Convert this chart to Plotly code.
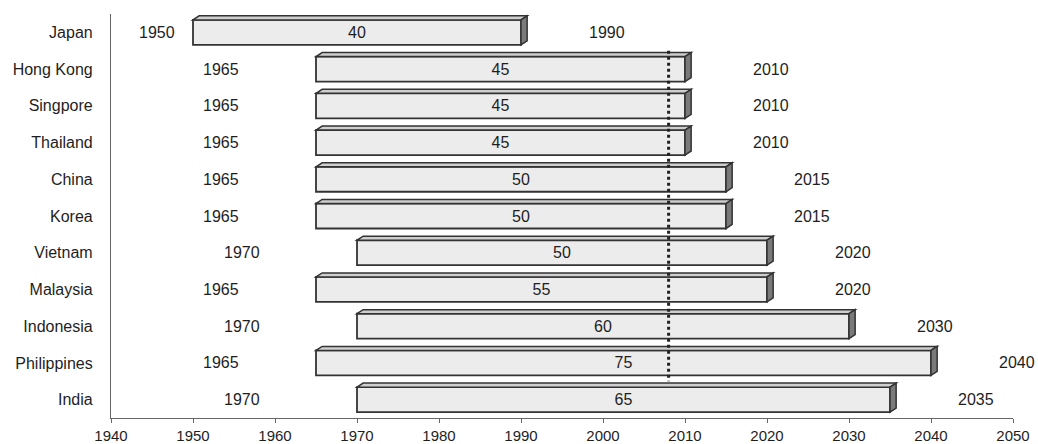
import plotly.graph_objects as go

countries = ["Japan", "Hong Kong", "Singpore", "Thailand", "China", "Korea",
             "Vietnam", "Malaysia", "Indonesia", "Philippines", "India"]
start_year = [1950, 1965, 1965, 1965, 1965, 1965, 1970, 1965, 1970, 1965, 1970]
end_year = [1990, 2010, 2010, 2010, 2015, 2015, 2020, 2020, 2030, 2040, 2035]
duration = [40, 45, 45, 45, 50, 50, 50, 55, 60, 75, 65]
reference_year = 2008
x_ticks = [1940, 1950, 1960, 1970, 1980, 1990, 2000, 2010, 2020, 2030, 2040, 2050]

ypos = list(range(len(countries)))
BAR_W = 0.68
HALF = BAR_W / 2
DX = 0.75   # depth of 3D effect in x (years)
DY = 0.11   # depth of 3D effect in y (category units)
TXT = "#1e1e1e"
EDGE = "#333333"
FONT = "Liberation Sans, Arial, sans-serif"
FS = 16

fig = go.Figure()
fig.add_trace(go.Bar(
    y=ypos, x=duration, base=start_year, orientation="h", width=BAR_W,
    marker=dict(color="#ececec", line=dict(color=EDGE, width=1.8)),
    text=[str(d) for d in duration], textposition="inside",
    insidetextanchor="middle", textangle=0,
    textfont=dict(size=FS, color=TXT, family=FONT),
    hoverinfo="skip", showlegend=False,
))

shapes = []
for y, s, e in zip(ypos, start_year, end_year):
    top = y - HALF
    bot = y + HALF
    shapes.append(dict(
        type="path", xref="x", yref="y", layer="above",
        path=f"M {s},{top} L {s+DX},{top-DY} L {e+DX},{top-DY} L {e},{top} Z",
        fillcolor="#cfcfcf", line=dict(color=EDGE, width=1.5)))
    shapes.append(dict(
        type="path", xref="x", yref="y", layer="above",
        path=f"M {e},{top} L {e+DX},{top-DY} L {e+DX},{bot-DY} L {e},{bot} Z",
        fillcolor="#7a7a7a", line=dict(color=EDGE, width=1.5)))

shapes.append(dict(type="line", xref="x", yref="y", layer="above",
                   x0=reference_year, x1=reference_year,
                   y0=ypos[0] + 0.5, y1=ypos[-1] - 0.5,
                   line=dict(color="#222222", width=3, dash="dot")))

annotations = []
for y, s, e in zip(ypos, start_year, end_year):
    annotations.append(dict(
        x=1953.4 + 0.52 * (s - 1965), y=y, xref="x", yref="y",
        text=str(s), showarrow=False,
        font=dict(size=FS, color=TXT, family=FONT)))
    annotations.append(dict(
        x=e + 10, y=y, xref="x", yref="y", xshift=4,
        text=str(e), showarrow=False,
        font=dict(size=FS, color=TXT, family=FONT)))

fig.update_layout(
    width=1038, height=444,
    margin=dict(l=111, r=25, t=14, b=26, autoexpand=False),
    paper_bgcolor="white", plot_bgcolor="white",
    font=dict(family=FONT, size=FS, color=TXT),
    shapes=shapes, annotations=annotations,
    xaxis=dict(range=[1940, 2050], tickvals=x_ticks,
               ticktext=[str(t) for t in x_ticks],
               showgrid=False, zeroline=False, automargin=False,
               showline=True, linecolor="#666666", linewidth=1.2,
               ticks="outside", ticklen=4, tickcolor="#666666",
               tickfont=dict(size=15, color=TXT, family=FONT)),
    yaxis=dict(range=[len(countries) - 0.5, -0.5], tickvals=ypos,
               ticktext=countries, showgrid=False, zeroline=False,
               automargin=False,
               showline=True, linecolor="#666666", linewidth=1.2,
               ticks="outside", ticklen=14, tickcolor="rgba(0,0,0,0)",
               tickfont=dict(size=FS, color=TXT, family=FONT)),
)

fig.write_html(
    "out.html",
    config={"displayModeBar": False},
    post_script="document.body.style.margin='0';document.body.style.overflow='hidden';",
)
